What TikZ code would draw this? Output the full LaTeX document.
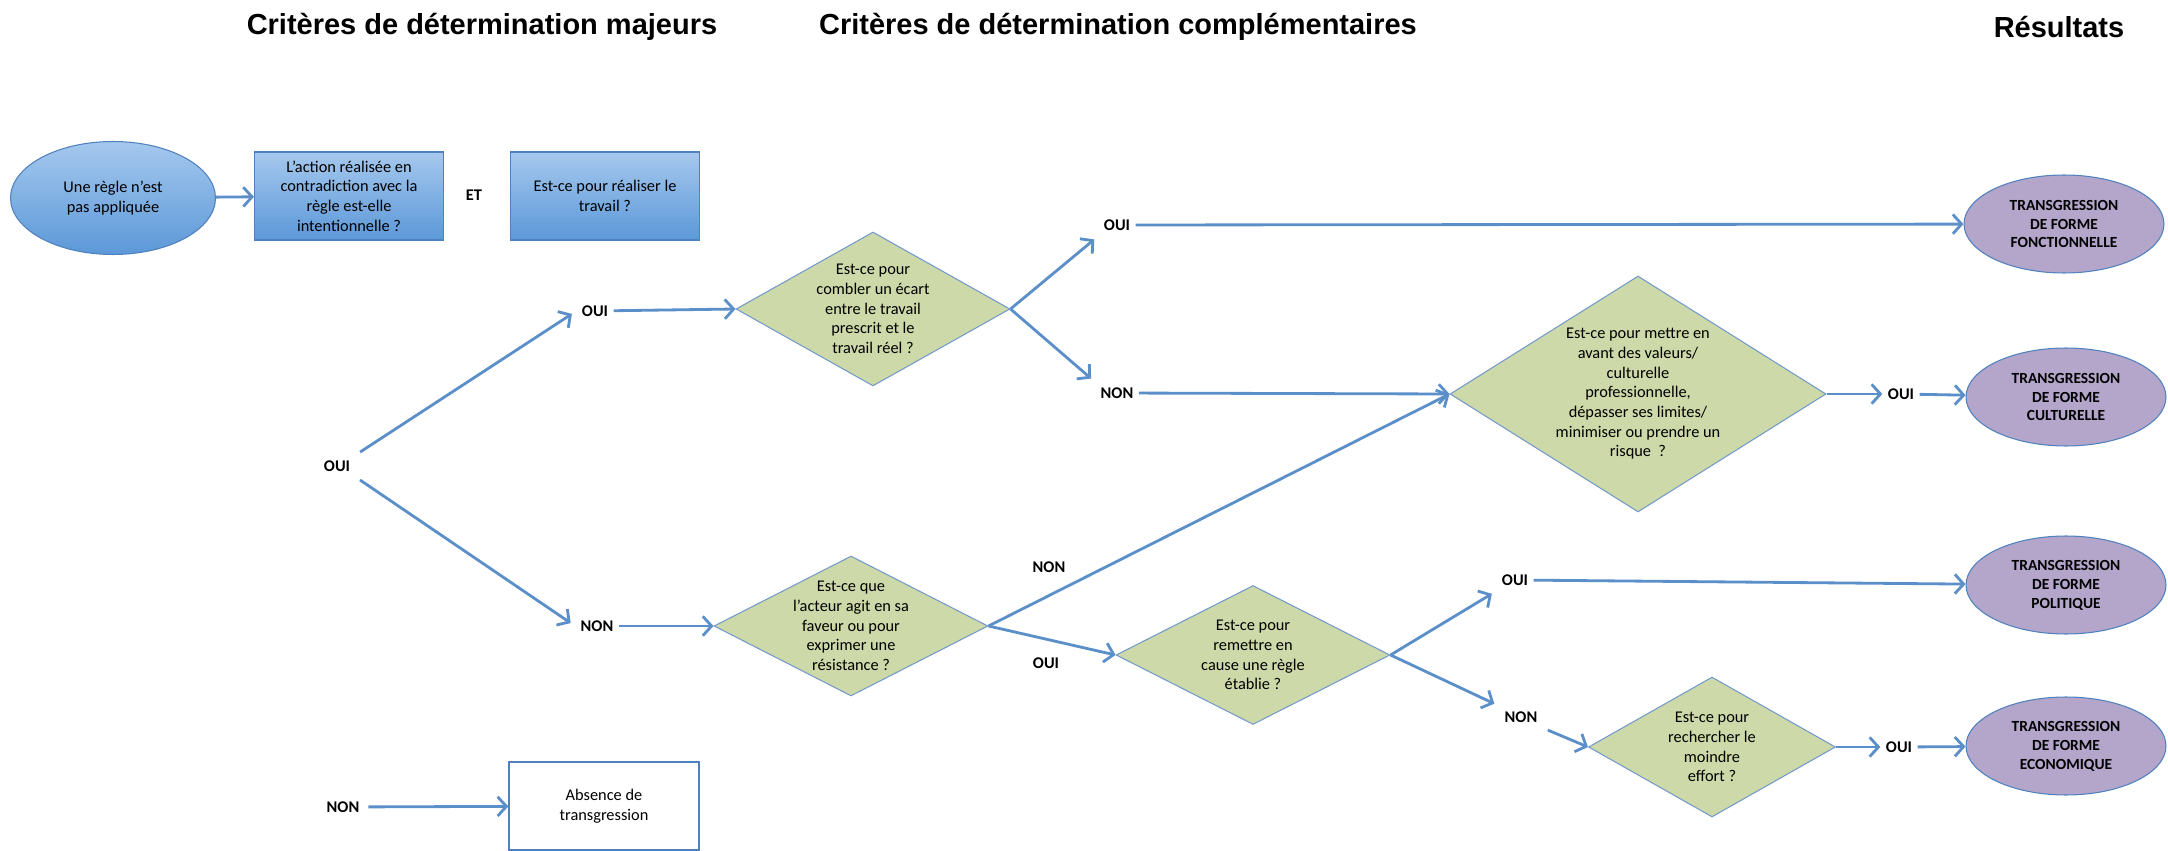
\documentclass[tikz,border=0pt]{standalone}
\usepackage{fontspec}
\setmainfont{Carlito}
\newfontfamily\headfont{Liberation Sans}
\usepackage{tikz}
\usetikzlibrary{arrows.meta,positioning,shapes.geometric}
\definecolor{rblue}{HTML}{4F81BD}
\definecolor{rbluetop}{HTML}{A5C8EE}
\definecolor{rbluebot}{HTML}{5C98D8}
\definecolor{rgreen}{HTML}{CDD9A8}
\definecolor{rpurple}{HTML}{B4A6CB}
\definecolor{rline}{HTML}{5B8FC9}

\begin{document}
\begin{tikzpicture}[x=0.02cm,y=-0.02cm,
  header/.style={font=\headfont\bfseries\fontsize{16.5}{19}\selectfont},
  txt/.style={align=center, font=\fontsize{9.3}{11.2}\selectfont},
  bluebox/.style={txt, rectangle, draw=rblue, line width=0.6pt, top color=rbluetop, bottom color=rbluebot, minimum width=3.78cm, minimum height=1.76cm},
  blueoval/.style={txt, ellipse, draw=rblue, line width=0.6pt, top color=rbluetop, bottom color=rbluebot, minimum width=4.1cm, minimum height=2.26cm},
  question/.style={txt, diamond, draw=rblue!80, fill=rgreen, line width=0.6pt, inner sep=-0.12cm},
  result/.style={ellipse, draw=rblue, fill=rpurple, line width=0.6pt, minimum width=4cm, minimum height=1.96cm, align=center, font=\bfseries\fontsize{8.8}{10.8}\selectfont},
  answer/.style={font=\bfseries\fontsize{9.3}{11.2}\selectfont, inner sep=3pt},
  emptybox/.style={txt, rectangle, draw=rblue, fill=white, line width=0.8pt, minimum width=3.8cm, minimum height=1.76cm},
  link/.style={draw=rline, line width=1.6pt, -{Straight Barb[length=5pt,width=11pt]}}
]
\useasboundingbox (0,0) rectangle (2168,851);
% Column titles
\node[header] (hmaj) at (482,27) {Critères de détermination majeurs};
\node[header] (hcomp) at (1118,27) {Critères de détermination complémentaires};
\node[header] (hres) at (2059,27) {Résultats};
% Major criteria
\node[blueoval] (regle) at (113,198) {Une règle n’est\\pas appliquée};
\node[bluebox] (action) at (349,196) {L’action réalisée en\\contradiction avec la\\règle est-elle\\intentionnelle ?};
\node[answer] (et) at (474,195) {ET};
\node[bluebox] (travail) at (605,196) {Est-ce pour réaliser le\\travail ?};
\draw[link] (regle) -- (action);
% First answers
\node[answer] (oui0) at (337,466) {OUI};
\node[answer] (oui1) at (595,311) {OUI};
\node[answer] (non1) at (597,626) {NON};
\node[answer] (non0) at (343,807) {NON};
\node[emptybox] (absence) at (604,806) {Absence de\\transgression};
\draw[link, shorten <=3pt, shorten >=3pt] (oui0.north east) -- (oui1.west);
\draw[link, shorten <=3pt, shorten >=3pt] (oui0.south east) -- (non1.west);
\draw[link, shorten <=2pt] (non0) -- (absence);
% Complementary criteria
\node[question, aspect=1.78, minimum width=5.48cm, minimum height=3.08cm] (ecart) at (873,309) {Est-ce pour\\combler un écart\\entre le travail\\prescrit et le\\travail réel ?};
\node[question, aspect=1.96, minimum width=5.48cm, minimum height=2.8cm] (faveur) at (851,626) {Est-ce que\\l’acteur agit en sa\\faveur ou pour\\exprimer une\\résistance ?};
\node[question, aspect=1.59, minimum width=7.52cm, minimum height=4.72cm] (valeurs) at (1638,394) {Est-ce pour mettre en\\avant des valeurs/\\culturelle\\professionnelle,\\dépasser ses limites/\\minimiser ou prendre un\\risque~~?};
\node[question, aspect=1.97, minimum width=5.48cm, minimum height=2.78cm] (cause) at (1253,655) {Est-ce pour\\remettre en\\cause une règle\\établie ?};
\node[question, aspect=1.76, minimum width=4.94cm, minimum height=2.8cm] (effort) at (1712,747) {Est-ce pour\\rechercher le\\moindre\\effort ?};
\draw[link] (oui1) -- (ecart.west);
\draw[link] (non1) -- (faveur.west);
% Second answers
\node[answer] (ouiA) at (1117,225) {OUI};
\node[answer] (nonA) at (1117,393) {NON};
\node[answer] (nonB) at (1049,567) {NON};
\node[answer] (ouiC) at (1046,663) {OUI};
\node[answer] (ouiD) at (1515,580) {OUI};
\node[answer] (nonD) at (1521,717) {NON};
\node[answer] (ouiB) at (1901,394) {OUI};
\node[answer] (ouiE) at (1899,747) {OUI};
\draw[link, shorten >=3pt] (ecart.east) -- (ouiA.south west);
\draw[link, shorten >=3pt] (ecart.east) -- (nonA.north west);
\draw[link] (nonA) -- (valeurs.west);
\draw[link] (faveur.east) -- (valeurs.west);
\draw[link] (faveur.east) -- (cause.west);
\draw[link, shorten >=3pt] (cause.east) -- (ouiD.south west);
\draw[link, shorten >=3pt] (cause.east) -- (nonD.north west);
\draw[link, shorten <=3pt] (nonD.south east) -- (effort.west);
\draw[link] (valeurs.east) -- (ouiB);
\draw[link] (effort.east) -- (ouiE);
% Results
\node[result] (fonct) at (2064,224) {TRANSGRESSION\\DE FORME\\FONCTIONNELLE};
\node[result] (cult) at (2066,397) {TRANSGRESSION\\DE FORME\\CULTURELLE};
\node[result] (polit) at (2066,585) {TRANSGRESSION\\DE FORME\\POLITIQUE};
\node[result] (econ) at (2066,746) {TRANSGRESSION\\DE FORME\\ECONOMIQUE};
\draw[link] (ouiA) -- (fonct);
\draw[link] (ouiB) -- (cult);
\draw[link] (ouiD) -- (polit);
\draw[link] (ouiE) -- (econ);
\end{tikzpicture}
\end{document}
